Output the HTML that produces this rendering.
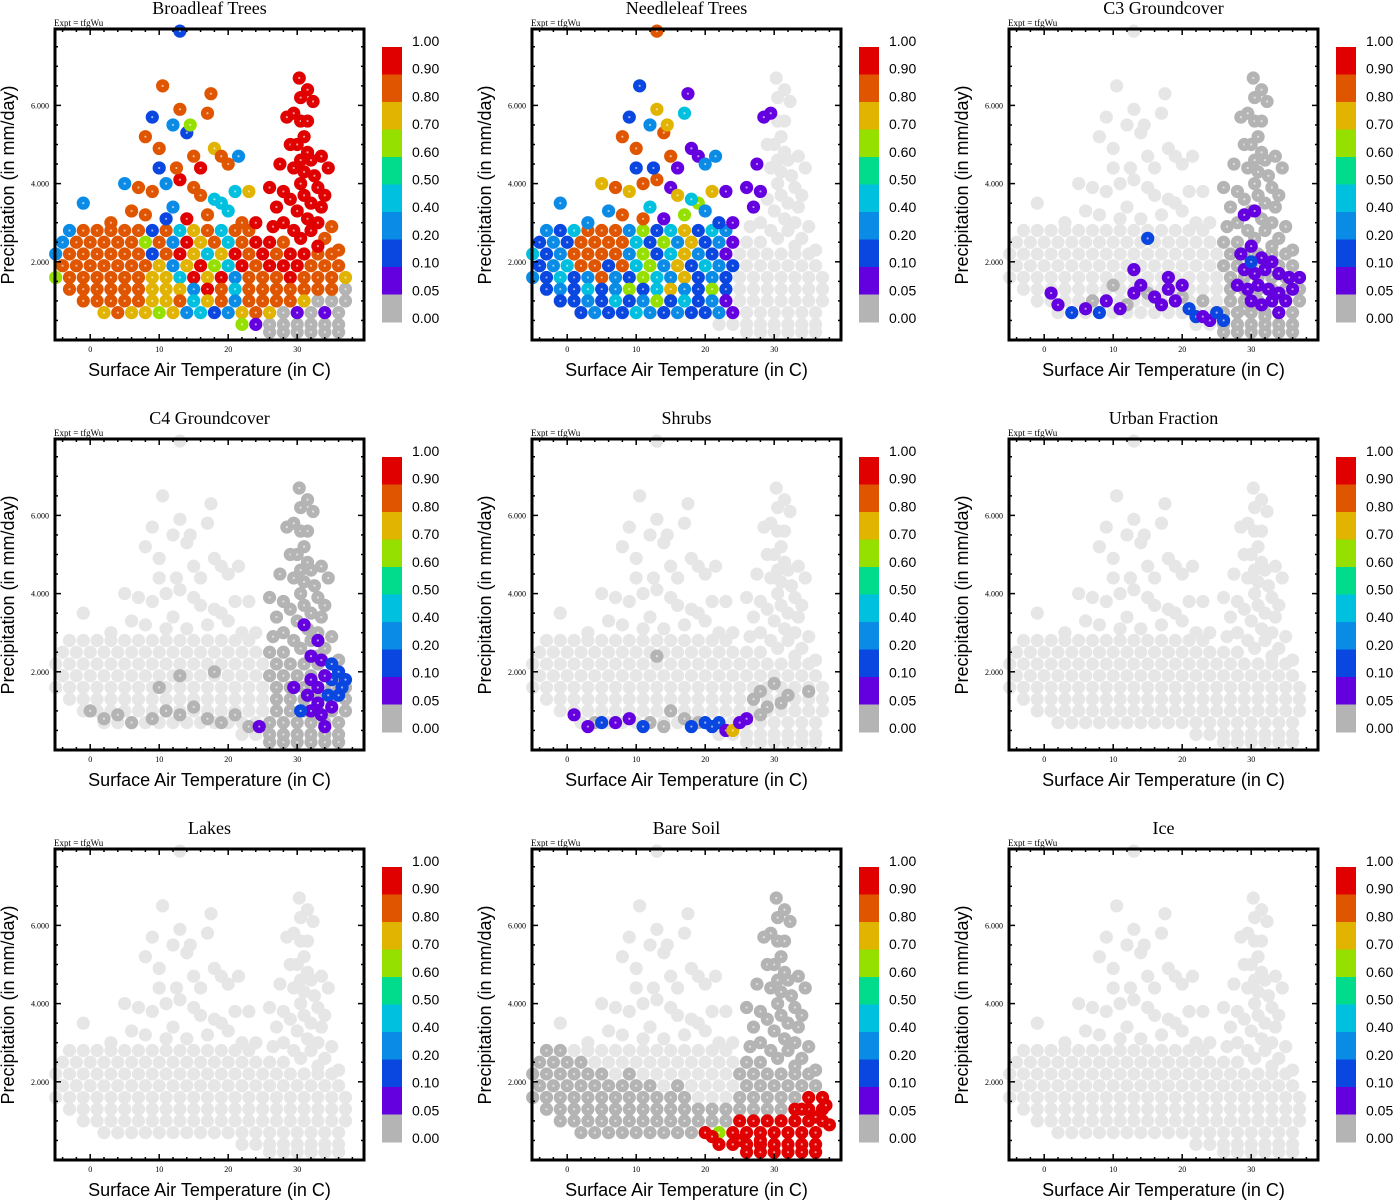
<!DOCTYPE html>
<html><head><meta charset="utf-8">
<style>
html,body{margin:0;padding:0;background:#fff;}
svg{display:block;}
.serif{font-family:"Liberation Serif",serif;}
.sans{font-family:"Liberation Sans",sans-serif;}
</style></head>
<body>
<svg id="fig" width="1393" height="1200" viewBox="0 0 1393 1200" xmlns="http://www.w3.org/2000/svg"></svg>
<script>
// ---------- data ----------
const panelTitles = ["Broadleaf Trees","Needleleaf Trees","C3 Groundcover","C4 Groundcover","Shrubs","Urban Fraction","Lakes","Bare Soil","Ice"];
const xTicks = [0,10,20,30];
const yTicks = [2,4,6];
const yTickLabels = ["2.000","4.000","6.000"];
const cbLevels = ["1.00","0.90","0.80","0.70","0.60","0.50","0.40","0.20","0.10","0.05","0.00"];
const cbColors = ["#e00000","#e05500","#e0b400","#96e000","#00dc8c","#00c0e0","#0a8ce6","#0a46e0","#6400e0","#b4b4b4"];

// base cloud rows: [precip, temps]
const baseRows = [
 [2.8,[-3,-1,1,3,5,7,9,11,13,15,17,19,21,23]],
 [2.5,[-4,-2,0,2,4,6,8,10,12,14,16,18,20,22,24,26,28]],
 [2.2,[-5,-3,-1,1,3,5,7,9,11,13,15,17,19,21,23,25,27,29,31,33,35]],
 [1.9,[-4,-2,0,2,4,6,8,10,12,14,16,18,20,22,24,26,28,30,32,34,36]],
 [1.6,[-5,-3,-1,1,3,5,7,9,11,13,15,17,19,21,23,25,27,29,31,33,35,37]],
 [1.3,[-3,-1,1,3,5,7,9,11,13,15,17,19,21,23,25,27,29,31,33,35,37]],
 [1.0,[-1,1,3,5,7,9,11,13,15,17,19,21,23,25,27,29,31,33,35,37]],
 [0.7,[2,4,6,8,10,12,14,16,18,20,22,24,26,28,30,32,34,36]],
 [0.4,[22,24,26,28,30,32,34,36]],
 [0.2,[26,28,30,32,34,36]]
];
const upperPts = [[-1,3.5],[5,4.0],[7,3.9],[9,5.7],[8,5.2],[10.5,6.5],[12,5.5],[13,5.9],[14,5.3],[15,4.7],[17,5.8],[17.5,6.3],[18,4.9],[19,4.7],[21.5,4.7],[10,4.4],[11,4.0],[9,3.8],[13,4.1],[15,3.9],[16,3.7],[19,3.5],[21,3.8],[23,3.8],[12,3.4],[8,3.2],[6,3.3],[14,3.1],[17,3.2],[20,3.3],[22,3.0],[24,3.0],[3,3.0],[11,3.1],[18,3.6],[10,4.9],[12.5,4.4],[16,4.4],[14.5,5.5],[20,4.5],[13,7.9]];
const spikePts = [[30.3,6.7],[31.5,6.4],[30.5,6.2],[32.3,6.1],[28.5,5.7],[29.5,5.8],[30.5,5.6],[31.5,5.6],[31,5.2],[29,5.0],[30,5.0],[31.5,4.8],[30.5,4.6],[32,4.6],[33.5,4.7],[34.5,4.4],[27.5,4.5],[29.5,4.4],[31,4.3],[32.5,4.2],[30.5,4.0],[33,3.9],[34,3.7],[26,3.9],[28,3.8],[29,3.6],[31,3.7],[32,3.5],[33.5,3.4],[27,3.4],[30,3.3],[31.5,3.1],[33,3.0],[35,2.9],[28,3.0],[26.5,2.9],[29.5,2.8],[32,2.8],[34,2.6],[30.5,2.6],[33,2.4],[36,2.3]];

const broadleafRows = [
 [0.3,0.85,0.85,0.85,0.85,0.85,0.15,0.85,0.45,0.75,0.85,0.45,0.85,0.85],
 [0.3,0.85,0.85,0.85,0.85,0.85,0.65,0.85,0.35,0.95,0.75,0.85,0.45,0.85,0.95,0.95,0.85],
 [0.3,0.85,0.85,0.85,0.85,0.85,0.85,0.15,0.85,0.95,0.75,0.45,0.75,0.95,0.85,0.95,0.85,0.95,0.95,0.85,0.85],
 [0.85,0.85,0.85,0.85,0.85,0.85,0.85,0.75,0.3,0.75,0.95,0.65,0.45,0.95,0.85,0.95,0.95,0.95,0.85,0.85,0.85],
 [0.65,0.85,0.85,0.85,0.85,0.85,0.85,0.75,0.75,0.45,0.95,0.75,0.95,0.35,0.85,0.85,0.85,0.95,0.85,0.85,0.85,0.75],
 [0.85,0.85,0.85,0.85,0.85,0.85,0.75,0.75,0.75,0.35,0.95,0.85,0.45,0.85,0.85,0.85,0.85,0.85,0.85,0.85,0],
 [0.85,0.85,0.85,0.85,0.85,0.75,0.75,0.85,0.45,0.75,0.85,0.35,0.85,0.85,0.85,0.85,0.75,0,0,0],
 [0.75,0.85,0.75,0.75,0.65,0.75,0.35,0.45,0.15,0.35,0.75,0.85,0.75,0,0.05,0,0.05,0],
 [0.65,0.05,0,0,0,0,0,0],
 [0,0,0,0,0,0]
];
const broadleafUpper = [0.3,0.3,0.85,0.1,0.85,0.85,0.3,0.85,0.1,0.85,0.85,0.85,0.75,0.85,0.3,0.15,0.3,0.85,0.95,0.85,0.85,0.45,0.45,0.75,0.3,0.85,0.85,0.95,0.85,0.45,0.85,0.95,0.85,0.1,0.45,0.85,0.85,0.95,0.65,0.85,0.1];
const broadleafSpike = [0.95,0.95,0.95,0.95,0.95,0.95,0.95,0.95,0.95,0.95,0.95,0.95,0.95,0.95,0.95,0.95,0.95,0.95,0.95,0.95,0.95,0.95,0.95,0.95,0.95,0.95,0.95,0.95,0.95,0.95,0.95,0.95,0.95,0.85,0.95,0.95,0.95,0.95,0.85,0.95,0.95,0.85];

const needleRows = [
 [0.2,0.1,0.4,0.85,0.85,0.85,0.2,0.6,0.1,0.4,0.7,0.1,0.4,0.2],
 [0.1,0.2,0.1,0.85,0.85,0.85,0.85,0.4,0.1,0.6,0.2,0.7,0.1,0.3,0.05,null,null],
 [0.4,0.1,0.2,0.85,0.85,0.85,0.85,0.3,0.6,0.1,0.4,0.7,0.2,0.1,0.05,null,null,null,null,null,null],
 [0.1,0.2,0.4,0.85,0.85,0.1,0.85,0.4,0.6,0.2,0.7,0.1,0.4,0.2,0.1,null,null,null,null,null,null],
 [0.2,0.1,0.4,0.1,0.2,0.85,0.3,0.1,0.6,0.4,0.2,0.7,0.1,0.2,0.1,null,null,null,null,null,null,null],
 [0.1,0.2,0.1,0.4,0.1,0.2,0.6,0.1,0.4,0.7,0.2,0.1,0.6,0.1,null,null,null,null,null,null,null],
 [0.1,0.1,0.2,0.1,0.4,0.1,0.2,0.6,0.1,0.4,0.1,0.2,0.05,null,null,null,null,null,null,null],
 [0.1,0.2,0.1,0.1,0.4,0.2,0.1,0.2,0.1,0.1,0.2,0.05,null,null,null,null,null,null],
 [null,null,null,null,null,null,null,null],
 [null,null,null,null,null,null]
];
const needleUpper = [0.2,0.7,0.85,0.1,0.85,0.1,0.3,0.7,0.85,0.85,0.4,0.05,0.05,0.05,0.2,0.1,0.85,0.7,0.85,0.05,0.7,0.6,0.7,0.05,0.4,0.85,0.2,0.05,0.6,0.2,0.1,0.05,0.3,0.85,0.4,0.85,0.1,0.05,0.7,0.2,0.85];
const needleSpike = [null,null,null,null,0.05,0.05,null,null,null,null,null,null,null,null,null,null,0.05,null,null,null,null,null,null,0.05,0.05,null,null,null,null,0.05,null,null,null,null,null,null,null,null,null,null,null,null];

const bareRows = [
 [0,0,null,null,null,null,null,null,null,null,null,null,null,null],
 [0,0,0,0,null,null,null,null,null,null,null,null,null,null,null,0,0],
 [0,0,0,0,0,0,null,0,null,null,null,null,null,null,null,0,0,0,0,0,0],
 [0,0,0,0,0,0,0,0,0,null,0,null,null,null,null,0,0,0,0,0,0],
 [0,0,0,0,0,0,0,0,0,0,0,0,null,null,null,0,0,0,0,0,0.95,0.95],
 [0,0,0,0,0,0,0,0,0,0,0,0,0,0,0,0,0,0,0.95,0.95,0.95],
 [0,0,0,0,0,0,0,0,0,0,0,0,0,0.95,0.95,0.95,0.95,0.95,0.95,0.95],
 [0,0,0,0,0,0,0,0,0,0.95,0.6,0.95,0.95,0.95,0.95,0.95,0.95,0.95],
 [0.95,0.95,0.95,0.95,0.95,0.95,0.95,0.95],
 [0.95,0.95,0.95,0.95,0.95,0.95]
];
const bareExtra = [[34,1.3,0.95],[36,1.1,0.95],[37.5,1.4,0.95],[38,0.9,0.95],[28,0.5,0.95],[25,0.5,0.95],[21,0.6,0.95]];

const c3Extra = [[28.5,2.2,0.05],[30,2.4,0.05],[31.5,2.1,0.05],[33,2.0,0.05],[29,1.8,0.05],[30.5,1.7,0.05],[32,1.8,0.05],[34,1.7,0.05],[35.5,1.6,0.05],[37,1.6,0.05],[28,1.4,0.05],[29.5,1.3,0.05],[31,1.4,0.05],[32.5,1.3,0.05],[34,1.2,0.05],[36,1.3,0.05],[30,1.0,0.05],[31.5,0.9,0.05],[33,1.0,0.05],[35,1.0,0.05],[29,0.8,0],[32,0.6,0],[34,0.7,0.05],[30.5,3.3,0.05],[30,2.0,0.1],[29,3.2,0.05],[1,1.2,0.05],[2,0.9,0.05],[4,0.7,0.1],[6,0.8,0.05],[8,0.7,0.1],[9,1.0,0.05],[11,0.8,0.05],[13,1.2,0.05],[14,1.4,0.05],[15,2.6,0.1],[16,1.1,0.05],[17,0.9,0.05],[18,1.3,0.05],[19,1.0,0.05],[21,0.8,0.1],[22,0.6,0.1],[23,0.6,0.05],[24,0.5,0.05],[25,0.7,0.1],[26,0.5,0.1],[13,1.8,0.05],[18,1.6,0.05],[20,1.4,0.05],[7,1.0,0],[10,1.4,0],[12,0.9,0],[15,1.2,0],[20,1.1,0],[23,1.0,0]];
const c4Extra = [[0,1.0,0],[2,0.8,0],[4,0.9,0],[6,0.7,0],[9,0.8,0],[11,1.0,0],[13,0.9,0],[15,1.1,0],[17,0.8,0],[19,0.7,0],[21,0.9,0],[23,0.6,0],[13,1.9,0],[10,1.6,0],[18,2.0,0],[32,2.4,0.05],[33.5,2.3,0.05],[35,2.2,0.1],[36,2.0,0.1],[37,1.8,0.1],[35,1.8,0.1],[36.5,1.6,0.1],[34,1.9,0.05],[33,1.6,0.05],[32,1.8,0.05],[31.5,1.4,0.05],[33,1.2,0.05],[34.5,1.4,0.1],[36,1.4,0.1],[35,1.1,0.05],[33.5,0.9,0.05],[32,1.0,0.05],[34,0.6,0.05],[31,3.2,0.05],[30.5,1.0,0.1],[24.5,0.6,0.05],[33,2.8,0.05],[29.5,1.6,0.05]];
const shrubExtra = [[27,1.3,0],[28,1.5,0],[29,1.1,0],[30,1.7,0],[31,1.2,0],[28,0.9,0],[13,2.4,0],[15,1.0,0],[17,0.8,0],[32,1.4,0],[35,1.5,0],[4,0.7,0],[12,0.7,0],[14,0.6,0],[19,0.7,0],[1,0.9,0.05],[3,0.6,0.05],[5,0.7,0.1],[7,0.7,0.05],[9,0.8,0.05],[11,0.6,0.1],[18,0.6,0.1],[20,0.7,0.1],[21,0.6,0.1],[22,0.7,0.1],[23,0.5,0.05],[24,0.5,0.7],[25,0.7,0.05],[26,0.8,0.05]];

const panelRows  = [broadleafRows, needleRows, null, null, null, null, null, bareRows, null];
const panelUpper = [broadleafUpper, needleUpper, null, null, null, null, null, null, null];
const panelSpike = [broadleafSpike, needleSpike, null, null, null, null, null, null, null];
const panelGreyFrom = [null, null, 26, 26, null, null, null, 25, null];
const panelExtra = [[], [], c3Extra, c4Extra, shrubExtra, [], [], bareExtra, []];

// ---------- rendering ----------
const NS = "http://www.w3.org/2000/svg";
const svg = document.getElementById("fig");
function mk(tag, attrs, parent){const e=document.createElementNS(NS,tag);for(const k in attrs)e.setAttribute(k,attrs[k]);(parent||svg).appendChild(e);return e;}
const PL=55, PR=364, PT=29, PB=340;
function xScale(t){return PL + (t+5.1)*6.9;}
function yScale(p){return PB - p*39.1;}
function colorOf(f){
  if(f===null||f===undefined) return "#e6e6e6";
  if(f>=0.9) return cbColors[0]; if(f>=0.8) return cbColors[1]; if(f>=0.7) return cbColors[2];
  if(f>=0.6) return cbColors[3]; if(f>=0.5) return cbColors[4]; if(f>=0.4) return cbColors[5];
  if(f>=0.2) return cbColors[6]; if(f>=0.1) return cbColors[7]; if(f>=0.05) return cbColors[8];
  return cbColors[9];
}
function layer(f){ if(f===null||f===undefined) return 0; if(f<0.05) return 1; return 2; }

for(let i=0;i<9;i++){
  const dx=(i%3)*477, dy=Math.floor(i/3)*410;
  const g=mk("g",{transform:`translate(${dx},${dy})`});
  
  

  const pts=[];
  const gf=panelGreyFrom[i];
  function resolve(t,f){ if((f===null||f===undefined) && gf!==null && t>=gf) return 0; return (f===undefined?null:f); }
  baseRows.forEach((row,r)=>{ row[1].forEach((t,k)=>{ const f=panelRows[i]?panelRows[i][r][k]:null; pts.push([t,row[0],resolve(t,f)]); }); });
  upperPts.forEach((p,k)=>{ const f=panelUpper[i]?panelUpper[i][k]:null; pts.push([p[0],p[1],resolve(p[0],f)]); });
  spikePts.forEach((p,k)=>{ const f=panelSpike[i]?panelSpike[i][k]:null; pts.push([p[0],p[1],resolve(p[0],f)]); });
  panelExtra[i].forEach(p=>pts.push([p[0],p[1],p[2]]));

  const pg=mk("g",{},g);
  
  
  for(let L=0;L<3;L++){
    pts.forEach(p=>{
      if(layer(p[2])!==L) return;
      const c=mk("circle",{cx:xScale(p[0]),cy:yScale(p[1]),r:6.6,fill:colorOf(p[2])},pg);
      
      
      if(L>0) mk("circle",{cx:xScale(p[0]),cy:yScale(p[1]),r:1.1,fill:"#fff","fill-opacity":0.6},pg);
    });
  }

  const fr=mk("rect",{x:PL,y:PT,width:PR-PL,height:PB-PT,fill:"none",stroke:"#000","stroke-width":3},g);
  
  
  for(let t=-4;t<=38;t+=2){
    const x=xScale(t), major=(t%10===0);
    const L=major?6:3;
    mk("line",{x1:x,y1:PB,x2:x,y2:PB-L,stroke:"#000","stroke-width":1.5},g);
    mk("line",{x1:x,y1:PT,x2:x,y2:PT+L,stroke:"#000","stroke-width":1.5},g);
  }
  xTicks.forEach(t=>{
    const tx=mk("text",{x:xScale(t),y:PB+12,"text-anchor":"middle","font-size":8,class:"serif"},g);
    tx.textContent=t;
    
    
  });
  for(let p=0.5;p<=7.9;p+=0.5){
    const y=yScale(p), major=(Math.abs(p%2)<1e-6);
    const L=major?6:3;
    mk("line",{x1:PL,y1:y,x2:PL+L,y2:y,stroke:"#000","stroke-width":1.5},g);
    mk("line",{x1:PR,y1:y,x2:PR-L,y2:y,stroke:"#000","stroke-width":1.5},g);
  }
  yTicks.forEach((p,k)=>{
    const tx=mk("text",{x:PL-6,y:yScale(p)+3,"text-anchor":"end","font-size":8,class:"serif"},g);
    tx.textContent=yTickLabels[k];
    
    
  });
  const tt=mk("text",{x:209.5,y:14,"text-anchor":"middle","font-size":18,class:"serif"},g);
  tt.textContent=panelTitles[i];
  
  
  const ex=mk("text",{x:PL-1,y:26,"font-size":9,class:"serif"},g);
  ex.textContent="Expt = tfgWu";
  
  
  const xt=mk("text",{x:209.5,y:376,"text-anchor":"middle","font-size":18,class:"sans"},g);
  xt.textContent="Surface Air Temperature (in C)";
  
  
  const yt=mk("text",{x:0,y:0,"text-anchor":"middle","font-size":18,class:"sans",transform:"translate(14,185) rotate(-90)"},g);
  yt.textContent="Precipitation (in mm/day)";
  
  
  const cb=mk("g",{},g);
  
  
  const segH=27.5;
  cbColors.forEach((c,k)=>{
    const r=mk("rect",{x:382,y:47+k*segH,width:20,height:segH+0.5,fill:c},cb);
    
    
  });
  cbLevels.forEach((lab,k)=>{
    const tx=mk("text",{x:412,y:46+k*27.7,"font-size":14,class:"sans"},cb);
    tx.textContent=lab;
    
    
  });
}
</script>
</body></html>
